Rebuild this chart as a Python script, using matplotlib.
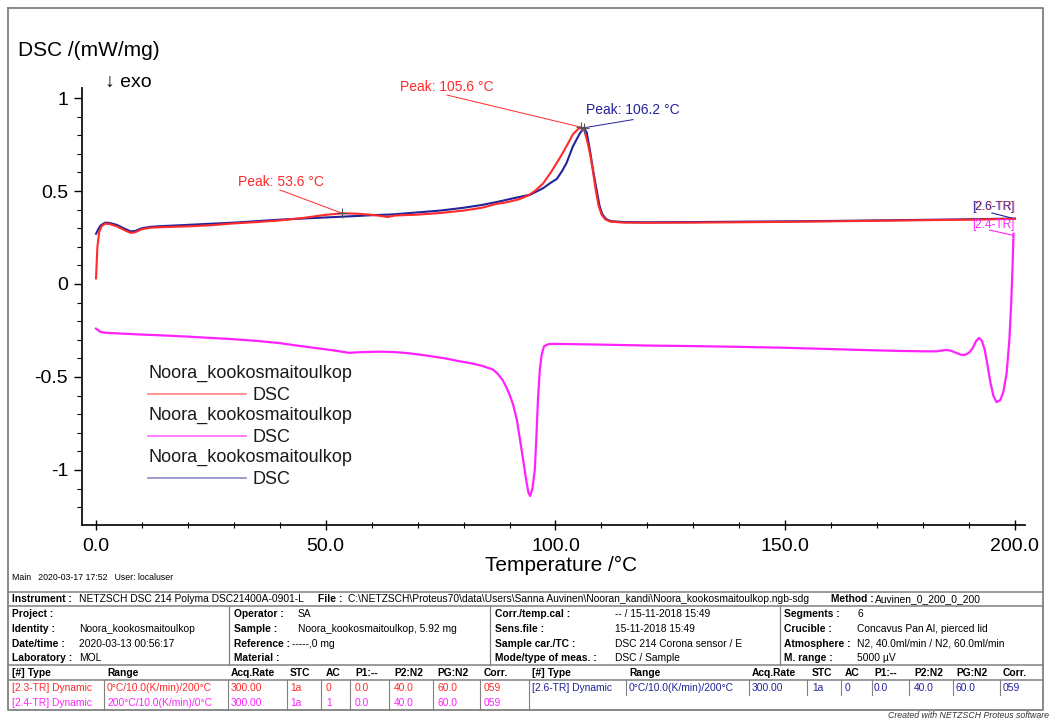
import matplotlib
matplotlib.use("Agg")
import matplotlib.pyplot as plt
from matplotlib.lines import Line2D
from matplotlib.ticker import MultipleLocator, FixedLocator, FixedFormatter

plt.rcParams['font.family'] = ['Liberation Sans', 'DejaVu Sans']

# 2.3-TR heating (red)
red_T = [0.0, 0.3, 0.7, 1.2, 2.0, 3.0, 4.5, 6.0, 7.5, 8.5, 10.0, 12.0, 15.0, 20.0, 25.0,
         30.0, 35.0, 40.0, 45.0, 50.0, 53.6, 57.0, 60.0, 62.0, 63.5, 65.0, 70.0, 75.0,
         80.0, 84.0, 87.0, 89.5, 92.0, 94.0, 95.5, 97.3, 99.0, 101.0, 102.5, 103.8,
         105.0, 105.6, 106.3, 107.0, 107.6, 108.2, 108.8, 109.4, 110.0, 110.8, 112.0,
         115.0, 120.0, 130.0, 140.0, 150.0, 160.0, 170.0, 180.0, 190.0, 200.0]
red_v = [0.03, 0.20, 0.28, 0.31, 0.325, 0.322, 0.31, 0.292, 0.275, 0.278, 0.295, 0.303,
         0.306, 0.310, 0.316, 0.326, 0.333, 0.342, 0.355, 0.372, 0.380, 0.378, 0.372,
         0.366, 0.360, 0.368, 0.373, 0.382, 0.395, 0.410, 0.430, 0.440, 0.455, 0.475,
         0.500, 0.540, 0.600, 0.680, 0.745, 0.805, 0.835, 0.843, 0.825, 0.760, 0.690,
         0.600, 0.500, 0.420, 0.375, 0.348, 0.335, 0.330, 0.329, 0.330, 0.332, 0.334,
         0.337, 0.340, 0.343, 0.346, 0.350]

# 2.6-TR second heating (blue)
blue_T = [0.0, 0.4, 1.0, 2.0, 3.0, 4.5, 6.0, 7.5, 8.5, 10.0, 12.0, 15.0, 20.0, 25.0, 30.0,
          35.0, 40.0, 45.0, 50.0, 53.6, 57.0, 60.0, 63.5, 65.0, 70.0, 75.0, 80.0, 84.0,
          88.0, 91.0, 94.5, 97.3, 99.0, 100.3, 101.5, 102.4, 103.8, 105.3, 106.2, 106.8,
          107.5, 108.2, 109.0, 109.6, 110.2, 111.0, 112.0, 115.0, 120.0, 130.0, 140.0,
          150.0, 160.0, 170.0, 180.0, 190.0, 200.0]
blue_v = [0.27, 0.29, 0.315, 0.330, 0.328, 0.318, 0.300, 0.283, 0.285, 0.300, 0.308, 0.312,
          0.318, 0.324, 0.330, 0.338, 0.346, 0.352, 0.358, 0.362, 0.366, 0.370, 0.373,
          0.375, 0.385, 0.395, 0.410, 0.425, 0.445, 0.462, 0.480, 0.515, 0.545, 0.565,
          0.610, 0.650, 0.740, 0.810, 0.840, 0.815, 0.720, 0.610, 0.500, 0.420, 0.375,
          0.350, 0.338, 0.333, 0.332, 0.333, 0.335, 0.337, 0.339, 0.342, 0.345, 0.348, 0.352]

# 2.4-TR cooling (magenta), 200 -> 0
pink_T = [199.7, 199.5, 199.2, 198.8, 198.2, 197.5, 196.8, 196.0, 195.3, 194.6, 194.0,
          193.4, 192.8, 192.2, 191.6, 190.8, 190.0, 189.0, 188.2, 187.0, 186.0, 185.0,
          184.0, 183.0, 180.0, 175.0, 170.0, 160.0, 150.0, 140.0, 130.0, 120.0, 110.0,
          100.0, 98.5, 97.5, 97.0, 96.6, 96.2, 95.8, 95.5, 95.0, 94.5, 94.1, 93.6, 93.0,
          92.3, 91.6, 90.8, 90.1, 89.3, 88.6, 87.5, 86.4, 84.0, 82.0, 79.0, 76.0, 72.0,
          68.0, 65.0, 62.0, 58.0, 55.0, 52.0, 48.0, 44.0, 40.0, 35.0, 30.0, 25.0, 20.0,
          15.0, 10.0, 5.0, 2.0, 1.0, 0.3, 0.0]
pink_v = [0.27, 0.10, -0.10, -0.30, -0.48, -0.58, -0.625, -0.635, -0.60, -0.52, -0.43,
          -0.35, -0.305, -0.29, -0.305, -0.345, -0.37, -0.382, -0.380, -0.368, -0.358,
          -0.355, -0.358, -0.362, -0.362, -0.360, -0.357, -0.350, -0.343, -0.338, -0.334,
          -0.331, -0.326, -0.322, -0.323, -0.335, -0.38, -0.46, -0.62, -0.85, -1.00, -1.10,
          -1.14, -1.12, -1.05, -0.95, -0.84, -0.73, -0.65, -0.60, -0.555, -0.52, -0.485,
          -0.46, -0.44, -0.428, -0.415, -0.40, -0.385, -0.372, -0.366, -0.364, -0.366,
          -0.37, -0.358, -0.345, -0.332, -0.318, -0.306, -0.297, -0.290, -0.283, -0.277,
          -0.272, -0.266, -0.262, -0.258, -0.245, -0.24]

RED = '#ff2a2a'
PINK = '#ff22ff'
BLUE = '#23239a'

# peaks: (T, value, label, colour, label position, leader start)
peaks = [
    (105.6, 0.843, 'Peak: 105.6 °C', RED, (66.2, 1.06), (76.4, 1.016)),
    (106.2, 0.840, 'Peak: 106.2 °C', BLUE, (106.6, 0.935), (116.9, 0.884)),
    (53.6, 0.380, 'Peak: 53.6 °C', RED, (30.9, 0.55), (40.0, 0.506)),
]

fig = plt.figure(figsize=(10.49, 7.2), dpi=100)

# overlay in pixel coordinates for the frame, legend and the info table
ov = fig.add_axes([0, 0, 1, 1])
ov.set_xlim(0, 1049)
ov.set_ylim(720, 0)
ov.axis('off')

ax = fig.add_axes([82 / 1049, 1 - 525 / 720, (1025 - 82) / 1049, (525 - 88) / 720])
ax.patch.set_visible(False)
ax.set_xlim(-3.05, 202.2)
ax.set_ylim(-1.296, 1.054)

ax.plot(red_T, red_v, color=RED, lw=1.5, zorder=3)
ax.plot(blue_T, blue_v, color=BLUE, lw=1.5, zorder=2)
ax.plot(pink_T, pink_v, color=PINK, lw=1.6, zorder=2)

for T, v, lab, col, tpos, lstart in peaks:
    ax.plot([lstart[0], T], [lstart[1], v], color=col, lw=0.7, clip_on=False)
    ax.plot(T, v, marker='+', color='#555555', ms=7, mew=0.8, zorder=5)
    ax.text(tpos[0], tpos[1], lab, color=col, fontsize=10, va='center', ha='left',
            clip_on=False)

# segment labels at the right end
ax.text(200.0, 0.415, '[2.6-TR]', color=BLUE, fontsize=8.5, ha='right', va='center')
ax.text(200.0, 0.415, '[2.3-TR]', color=RED, fontsize=8.5, ha='right', va='center', alpha=0.5)
ax.plot([195.0, 200.0], [0.382, 0.350], color=BLUE, lw=0.8)
ax.text(200.0, 0.318, '[2.4-TR]', color=PINK, fontsize=8.5, ha='right', va='center')
ax.plot([194.5, 199.6], [0.29, 0.262], color=PINK, lw=0.8)

for s in ['top', 'right']:
    ax.spines[s].set_visible(False)
for s in ['left', 'bottom']:
    ax.spines[s].set_linewidth(1.3)
    ax.spines[s].set_color('#111111')

ax.yaxis.set_major_locator(FixedLocator([-1, -0.5, 0, 0.5, 1]))
ax.yaxis.set_major_formatter(FixedFormatter(['-1', '-0.5', '0', '0.5', '1']))
ax.yaxis.set_minor_locator(MultipleLocator(0.1))
ax.xaxis.set_major_locator(MultipleLocator(50))
ax.xaxis.set_major_formatter(plt.FuncFormatter(lambda x, p: f'{x:.1f}'))
ax.xaxis.set_minor_locator(MultipleLocator(10))
ax.tick_params(axis='y', which='major', direction='out', length=6, width=1, labelsize=14, pad=4)
ax.tick_params(axis='y', which='minor', direction='out', length=3.5, width=0.8)
ax.tick_params(axis='x', which='major', direction='inout', length=7, width=1, labelsize=14, pad=6)
ax.tick_params(axis='x', which='minor', direction='inout', length=5, width=0.8)

fig.text(18 / 1049, 1 - 50 / 720, 'DSC /(mW/mg)', fontsize=15, va='center', ha='left')
fig.text(105 / 1049, 1 - 82 / 720, '↓ exo', fontsize=14, va='center', ha='left')
fig.text(561 / 1049, 1 - 565 / 720, 'Temperature /°C', fontsize=15, va='center', ha='center')

# legend (drawn by hand to match the instrument software layout)
leg_cols = ['#ff8080', '#ff66ff', '#8c8cc8']
for i, c in enumerate(leg_cols):
    y0 = 373 + i * 42
    ov.text(148, y0, 'Noora_kookosmaitoulkop', fontsize=13, va='center', ha='left', color='#1a1a1a')
    ov.add_line(Line2D([148, 246], [y0 + 21, y0 + 21], color=c, lw=1.2))
    ov.text(253, y0 + 22, 'DSC', fontsize=13, va='center', ha='left', color='#1a1a1a')

# outer frame
G = '#808080'
ov.add_line(Line2D([8, 1043, 1043, 8, 8], [8, 8, 710, 710, 8], color=G, lw=1.3))
for yy in [592, 606, 665, 680]:
    ov.add_line(Line2D([8, 1043], [yy, yy], color=G, lw=1.1))
for xx in [229, 490, 780]:
    ov.add_line(Line2D([xx, xx], [606, 665], color=G, lw=0.9))
for xx in [104, 228, 287, 321, 350, 389, 433, 480, 529, 626, 749, 807, 841, 872, 909, 953, 1000]:
    ov.add_line(Line2D([xx, xx], [680, 695], color=G, lw=0.8))
for xx in [104, 228, 287, 321, 350, 389, 433, 480, 529]:
    ov.add_line(Line2D([xx, xx], [695, 710], color=G, lw=0.8))

ov.text(12, 577, 'Main   2020-03-17 17:52   User: localuser', fontsize=6.3, va='center')

FS = 7.4
def tx(x, y, s, bold=False, color='black'):
    ov.text(x, y, s, fontsize=FS, va='center', ha='left', color=color,
            fontweight='bold' if bold else 'normal')

tx(12, 599, 'Instrument :', True)
tx(79, 599, 'NETZSCH DSC 214 Polyma DSC21400A-0901-L')
tx(318, 599, 'File :', True)
tx(348, 599, 'C:\\NETZSCH\\Proteus70\\data\\Users\\Sanna Auvinen\\Nooran_kandi\\Noora_kookosmaitoulkop.ngb-sdg')
tx(831, 599, 'Method :', True)
tx(875, 599, 'Auvinen_0_200_0_200')

rows_y = [614, 629, 644, 658]
info = [
    (12, 79, ['Project :', 'Identity :', 'Date/time :', 'Laboratory :'],
     ['', 'Noora_kookosmaitoulkop', '2020-03-13 00:56:17', 'MOL']),
    (234, 298, ['Operator :', 'Sample :', 'Reference :', 'Material :'],
     ['SA', 'Noora_kookosmaitoulkop, 5.92 mg', '', '']),
    (495, 615, ['Corr./temp.cal :', 'Sens.file :', 'Sample car./TC :', 'Mode/type of meas. :'],
     ['-- / 15-11-2018 15:49', '15-11-2018 15:49', 'DSC 214 Corona sensor / E', 'DSC / Sample']),
    (784, 857, ['Segments :', 'Crucible :', 'Atmosphere :', 'M. range :'],
     ['6', 'Concavus Pan Al, pierced lid', 'N2, 40.0ml/min / N2, 60.0ml/min', '5000 µV']),
]
for lx, vx, labs, vals in info:
    for y, l, v in zip(rows_y, labs, vals):
        tx(lx, y, l, True)
        if v:
            tx(vx, y, v)
tx(292, 644, '-----,0 mg')

hdr = ['[#] Type', 'Range', 'Acq.Rate', 'STC', 'AC', 'P1:--', 'P2:N2', 'PG:N2', 'Corr.']
left_x = [12, 107, 231, 290, 326, 355, 394, 437, 484]
right_x = [532, 629, 752, 812, 845, 874, 914, 956, 1003]
for xs in (left_x, right_x):
    for x, h in zip(xs, hdr):
        tx(x, 673, h, True)

seg_rows = [
    (left_x, 688, RED, ['[2.3-TR] Dynamic', '0°C/10.0(K/min)/200°C', '300.00', '1a', '0', '0.0', '40.0', '60.0', '059']),
    (left_x, 703, PINK, ['[2.4-TR] Dynamic', '200°C/10.0(K/min)/0°C', '300.00', '1a', '1', '0.0', '40.0', '60.0', '059']),
    (right_x, 688, BLUE, ['[2.6-TR] Dynamic', '0°C/10.0(K/min)/200°C', '300.00', '1a', '0', '0.0', '40.0', '60.0', '059']),
]
for xs, y, col, vals in seg_rows:
    for x, v in zip(xs, vals):
        tx(x, y, v, color=col)

ov.text(1049, 716, 'Created with NETZSCH Proteus software', fontsize=6.3, style='italic',
        ha='right', va='center', color='#333333')

fig.savefig('out.png', dpi=100)
